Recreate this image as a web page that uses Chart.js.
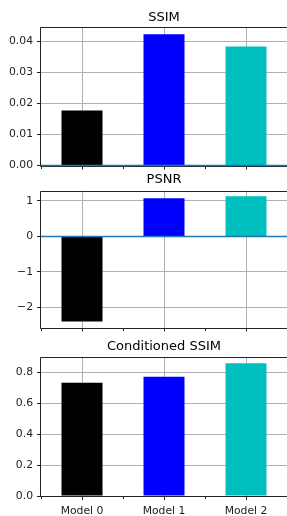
<!DOCTYPE html>
<html>
<head>
<meta charset="utf-8">
<script src="https://cdn.jsdelivr.net/npm/chart.js@4.4.1/dist/chart.umd.min.js"></script>
<style>
  html, body { margin: 0; padding: 0; background: #fff; }
  body { width: 287px; height: 516px; position: relative; overflow: hidden; }
  canvas { position: absolute; left: 0; }
</style>
</head>
<body>
<canvas id="Chart1" width="287" height="176" style="top:0px"></canvas>
<canvas id="Chart2" width="287" height="170" style="top:168px"></canvas>
<canvas id="Chart3" width="287" height="180" style="top:336px"></canvas>
<script>
// data
var models = ['Model 0', 'Model 1', 'Model 2'];
var ssim = [0.0177, 0.0422, 0.0382];
var psnr = [-2.40, 1.08, 1.13];
var condSsim = [0.733, 0.772, 0.858];

var barColors = ['#000000', '#0000ff', '#00bfbf'];
var font = 'DejaVu Sans';

// spines, zero line and minor x ticks
var frame = {
  id: 'frame',
  afterDraw: function (chart, args, opts) {
    var ctx = chart.ctx, a = chart.chartArea, x = chart.scales.x, y = chart.scales.y;
    ctx.save();
    ctx.strokeStyle = '#222';
    ctx.lineWidth = 1;
    var l = Math.round(a.left) - 0.5, t = Math.round(a.top) + 0.5;
    var r = Math.round(a.right) + 0.5, b = Math.round(a.bottom) + 0.5;
    ctx.beginPath();
    ctx.moveTo(l, t); ctx.lineTo(r, t);
    ctx.moveTo(l, t); ctx.lineTo(l, b);
    ctx.moveTo(l, b); ctx.lineTo(r, b);
    ctx.stroke();
    ctx.beginPath();
    for (var i = 0; i <= models.length; i++) {
      var px = Math.round(x.getPixelForValue(i - 0.5)) + 0.5;
      ctx.moveTo(px, b); ctx.lineTo(px, b + 2.5);
    }
    ctx.stroke();
    if (opts.zeroLine) {
      var y0 = y.getPixelForValue(0);
      ctx.strokeStyle = '#1f77b4';
      ctx.lineWidth = 1.5;
      ctx.beginPath();
      ctx.moveTo(a.left, y0); ctx.lineTo(a.right, y0);
      ctx.stroke();
    }
    ctx.restore();
  }
};

function makeChart(id, title, values, yMin, yMax, step, digits, titlePad, xHeight, showLabels) {
  return new Chart(document.getElementById(id).getContext('2d'), {
    type: 'bar',
    data: {
      labels: models,
      datasets: [{
        data: values,
        backgroundColor: barColors,
        barPercentage: 0.5,
        categoryPercentage: 1.0
      }]
    },
    options: {
      responsive: false,
      animation: false,
      layout: { padding: 0 },
      plugins: {
        legend: { display: false },
        tooltip: { enabled: false },
        frame: { zeroLine: !showLabels },
        title: {
          display: true,
          fullSize: false,
          text: title,
          color: '#000',
          font: { family: font, size: 13, weight: 'normal', lineHeight: 1.2 },
          padding: titlePad
        }
      },
      scales: {
        x: {
          offset: true,
          z: 1,
          border: { display: false },
          grid: { offset: false, color: '#b0b0b0', tickColor: '#222', tickLength: 4 },
          ticks: { display: showLabels, padding: 5, color: '#222', maxRotation: 0, font: { family: font, size: 10.8 } },
          afterFit: function (s) { s.height = xHeight; }
        },
        y: {
          min: yMin,
          max: yMax,
          z: 1,
          border: { display: false },
          grid: { color: '#b0b0b0', tickColor: '#222', tickLength: 4 },
          ticks: {
            stepSize: step,
            includeBounds: false,
            padding: 4,
            color: '#222',
            font: { family: font, size: 10.8 },
            callback: function (v) { return (v < 0 ? '\u2212' : '') + Math.abs(v).toFixed(digits); }
          },
          afterFit: function (s) { s.width = 41; }
        }
      }
    },
    plugins: [frame]
  });
}

var Chart1 = makeChart('Chart1', 'SSIM', ssim, 0, 0.0445, 0.01, 2, { top: 10.2, bottom: 1.2 }, 10, false);
var Chart2 = makeChart('Chart2', 'PSNR', psnr, -2.57, 1.29, 1, 0, { top: 4.2, bottom: 2.9 }, 9.7, false);
var Chart3 = makeChart('Chart3', 'Conditioned SSIM', condSsim, 0, 0.897, 0.2, 1, { top: 2.5, bottom: 3.2 }, 20, true);
</script>
</body>
</html>
